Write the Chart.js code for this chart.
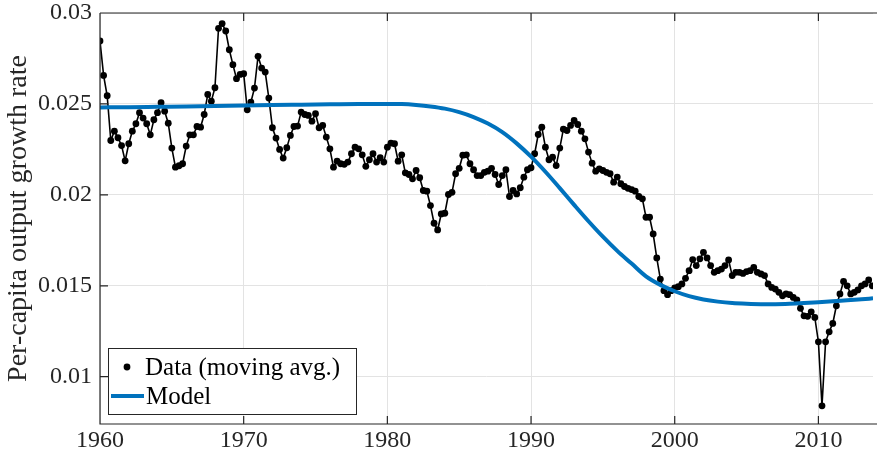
<!DOCTYPE html>
<html>
<head>
<meta charset="utf-8">
<script src="https://cdn.jsdelivr.net/npm/chart.js@4"></script>
<style>
    body { margin: 0; background: #ffffff; }
    #wrap { width: 877px; height: 455px; position: relative; }
</style>
</head>
<body>
<div id="wrap"><canvas id="growth-chart"></canvas></div>
<script>
// quarterly moving average, one array per decade, starting at 1960 Q1
const startYear = 1960;
const growth1960s = [0.02846, 0.02657, 0.02545, 0.02299, 0.02350, 0.02314, 0.02271, 0.02187, 0.02281, 0.02350,
    0.02391, 0.02452, 0.02422, 0.02391, 0.02330, 0.02413, 0.02452, 0.02507, 0.02460, 0.02394,
    0.02257, 0.02152, 0.02160, 0.02171, 0.02268, 0.02330, 0.02330, 0.02376, 0.02372, 0.02442,
    0.02552, 0.02515, 0.02589, 0.02916, 0.02942, 0.02901, 0.02798, 0.02716, 0.02639, 0.02662];
const growth1970s = [0.02666, 0.02468, 0.02510, 0.02587, 0.02762, 0.02697, 0.02675, 0.02532, 0.02369, 0.02312,
    0.02250, 0.02202, 0.02259, 0.02327, 0.02376, 0.02378, 0.02455, 0.02442, 0.02437, 0.02405,
    0.02446, 0.02369, 0.02382, 0.02318, 0.02253, 0.02152, 0.02185, 0.02171, 0.02168, 0.02180,
    0.02226, 0.02262, 0.02253, 0.02220, 0.02157, 0.02193, 0.02226, 0.02180, 0.02204, 0.02180];
const growth1980s = [0.02262, 0.02284, 0.02281, 0.02185, 0.02220, 0.02121, 0.02112, 0.02088, 0.02134, 0.02094,
    0.02024, 0.02020, 0.01941, 0.01844, 0.01807, 0.01895, 0.01899, 0.02002, 0.02014, 0.02116,
    0.02146, 0.02218, 0.02220, 0.02171, 0.02138, 0.02106, 0.02106, 0.02124, 0.02130, 0.02146,
    0.02112, 0.02057, 0.02106, 0.02138, 0.01991, 0.02024, 0.02005, 0.02039, 0.02097, 0.02138];
const growth1990s = [0.02149, 0.02226, 0.02332, 0.02372, 0.02262, 0.02193, 0.02207, 0.02161, 0.02257, 0.02361,
    0.02354, 0.02382, 0.02409, 0.02387, 0.02350, 0.02308, 0.02235, 0.02174, 0.02130, 0.02143,
    0.02134, 0.02124, 0.02116, 0.02070, 0.02098, 0.02061, 0.02046, 0.02036, 0.02029, 0.02020,
    0.01991, 0.01978, 0.01877, 0.01877, 0.01785, 0.01653, 0.01537, 0.01473, 0.01451, 0.01473];
const growth2000s = [0.01488, 0.01495, 0.01510, 0.01541, 0.01583, 0.01644, 0.01611, 0.01648, 0.01684, 0.01653,
    0.01611, 0.01574, 0.01583, 0.01592, 0.01611, 0.01642, 0.01556, 0.01574, 0.01574, 0.01568,
    0.01578, 0.01583, 0.01601, 0.01574, 0.01565, 0.01556, 0.01510, 0.01491, 0.01482, 0.01464,
    0.01445, 0.01455, 0.01451, 0.01436, 0.01422, 0.01376, 0.01335, 0.01332, 0.01357, 0.01326];
const growth2010s = [0.01192, 0.00840, 0.01192, 0.01247, 0.01293, 0.01390, 0.01455, 0.01524, 0.01500, 0.01455,
    0.01464, 0.01477, 0.01500, 0.01510, 0.01532, 0.01500];

// model curve
const modelYears = [1960, 1962, 1964, 1966, 1968, 1970, 1972, 1974, 1976, 1978, 1980, 1981, 1982, 1983,
    1984, 1985, 1986, 1987, 1988, 1989, 1990, 1991, 1992, 1993, 1994, 1995, 1996, 1997, 1998, 1999,
    2000, 2001, 2002, 2003, 2004, 2005, 2006, 2007, 2008, 2009, 2010, 2011, 2012, 2013, 2013.8];
const modelValues = [0.02481, 0.02482, 0.02484, 0.02486, 0.02489, 0.02491, 0.02494, 0.02496, 0.02498, 0.02500,
    0.02500, 0.02499, 0.02494, 0.02486, 0.02474, 0.02455, 0.02428, 0.02392, 0.02345, 0.02283,
    0.02210, 0.02127, 0.02037, 0.01945, 0.01855, 0.01770, 0.01692, 0.01622, 0.01552, 0.01505,
    0.01470, 0.01443, 0.01425, 0.01413, 0.01405, 0.01401, 0.01399, 0.01399, 0.01401, 0.01405,
    0.01410, 0.01415, 0.01420, 0.01426, 0.01431];

const xTicks = [1960, 1970, 1980, 1990, 2000, 2010];
const yTicks = [0.01, 0.015, 0.02, 0.025, 0.03];
const yLabel = "Per-capita output growth rate";
const legendLabels = ["Data (moving avg.)", "Model"];

const fontFamily = "'Liberation Serif', 'Times New Roman', serif";
const frameColor = "#262626";
const modelColor = "#0072BD";

let growth = growth1960s.concat(growth1970s, growth1980s, growth1990s, growth2000s, growth2010s);
let dataPoints = [];
for (let i = 0; i < growth.length; i++) {
    dataPoints.push({ x: startYear + i / 4, y: growth[i] });
}
let modelPoints = [];
for (let i = 0; i < modelYears.length; i++) {
    modelPoints.push({ x: modelYears[i], y: modelValues[i] });
}

// box around the axes with MATLAB style inward ticks
const framePlugin = {
    id: "frame",
    afterDatasetsDraw(chart) {
        const ctx = chart.ctx;
        const area = chart.chartArea;
        const xs = chart.scales.x;
        const ys = chart.scales.y;
        ctx.save();
        ctx.strokeStyle = frameColor;
        ctx.lineWidth = 1.2;
        ctx.beginPath();
        ctx.moveTo(area.left, area.top);
        ctx.lineTo(chart.width, area.top);
        ctx.moveTo(area.left, area.top);
        ctx.lineTo(area.left, area.bottom);
        ctx.lineTo(chart.width, area.bottom);
        for (let t of xTicks) {
            let px = xs.getPixelForValue(t);
            ctx.moveTo(px, area.bottom);
            ctx.lineTo(px, area.bottom - 8);
            ctx.moveTo(px, area.top);
            ctx.lineTo(px, area.top + 8);
        }
        for (let t of yTicks) {
            let py = ys.getPixelForValue(t);
            ctx.moveTo(area.left, py);
            ctx.lineTo(area.left + 8, py);
        }
        ctx.stroke();
        ctx.restore();
    }
};

// legend box in the lower left corner
const legendPlugin = {
    id: "boxLegend",
    afterDraw(chart) {
        const ctx = chart.ctx;
        const area = chart.chartArea;
        let left = area.left + 8;
        let top = area.bottom - 76;
        let w = 248;
        let h = 66;
        ctx.save();
        ctx.fillStyle = "#ffffff";
        ctx.fillRect(left, top, w, h);
        ctx.strokeStyle = frameColor;
        ctx.lineWidth = 1;
        ctx.strokeRect(left + 0.5, top + 0.5, w, h);

        ctx.fillStyle = "#000000";
        ctx.beginPath();
        ctx.arc(left + 19, top + 19, 3.4, 0, Math.PI * 2);
        ctx.fill();

        ctx.strokeStyle = modelColor;
        ctx.lineWidth = 4;
        ctx.beginPath();
        ctx.moveTo(left + 3, top + 48);
        ctx.lineTo(left + 36, top + 48);
        ctx.stroke();

        ctx.fillStyle = "#000000";
        ctx.font = "25px " + fontFamily;
        ctx.textBaseline = "middle";
        ctx.fillText(legendLabels[0], left + 37, top + 20);
        ctx.fillText(legendLabels[1], left + 38, top + 49);
        ctx.restore();
    }
};

new Chart(document.getElementById("growth-chart"), {
    type: "scatter",
    data: {
        datasets: [
            {
                label: legendLabels[1],
                data: modelPoints,
                showLine: true,
                borderColor: modelColor,
                borderWidth: 4,
                pointRadius: 0,
                cubicInterpolationMode: "monotone",
                order: 0,
            },
            {
                label: legendLabels[0],
                data: dataPoints,
                showLine: true,
                borderColor: "#000000",
                borderWidth: 1.6,
                backgroundColor: "#000000",
                pointRadius: 3.4,
                pointBorderWidth: 0,
                order: 1,
            },
        ],
    },
    options: {
        responsive: true,
        maintainAspectRatio: false,
        animation: false,
        layout: { padding: { top: 13, right: 0, bottom: 0, left: 0 } },
        plugins: {
            legend: { display: false },
            tooltip: { enabled: false },
        },
        scales: {
            x: {
                type: "linear",
                min: 1960,
                max: 2013.8,
                afterBuildTicks: (scale) => {
                    scale.ticks = xTicks.map((v) => ({ value: v }));
                },
                afterFit: (scale) => {
                    scale.height = 31;
                    scale.paddingLeft = 0;
                    scale.paddingRight = 0;
                },
                ticks: {
                    color: "#262626",
                    padding: 2,
                    maxRotation: 0,
                    font: { family: fontFamily, size: 24 },
                    callback: (v) => String(v),
                },
                grid: { color: "#e3e3e3", lineWidth: 1, drawTicks: false },
                border: { display: false },
            },
            y: {
                type: "linear",
                min: 0.0074,
                max: 0.03,
                afterBuildTicks: (scale) => {
                    scale.ticks = yTicks.map((v) => ({ value: v }));
                },
                afterFit: (scale) => {
                    scale.width = 100;
                    scale.paddingTop = 0;
                    scale.paddingBottom = 0;
                },
                ticks: {
                    color: "#262626",
                    padding: 8,
                    font: { family: fontFamily, size: 24 },
                    callback: (v) => String(v),
                },
                title: {
                    display: true,
                    text: yLabel,
                    color: "#262626",
                    padding: { top: 2, bottom: 0 },
                    font: { family: fontFamily, size: 28 },
                },
                grid: { color: "#e3e3e3", lineWidth: 1, drawTicks: false },
                border: { display: false },
            },
        },
    },
    plugins: [framePlugin, legendPlugin],
});
</script>
</body>
</html>
